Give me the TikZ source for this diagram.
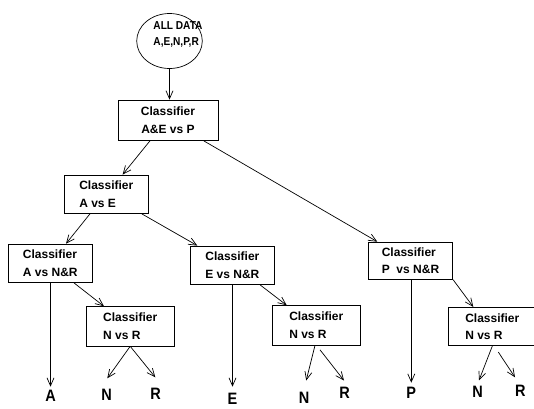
\documentclass[tikz,border=0pt]{standalone}
\usepackage{fontspec}
\usetikzlibrary{arrows.meta,shapes.geometric}
\newfontfamily\boxfont{Liberation Sans}
\newfontfamily\datafont[FakeStretch=0.88]{Liberation Sans}
\newfontfamily\leaffont[FakeStretch=0.88]{Liberation Sans}
\begin{document}
\begin{tikzpicture}[x=1pt,y=-1pt,
    box/.style={draw,rectangle,line width=0.7pt,minimum width=84.5pt,minimum height=38.5pt,inner sep=0pt,align=left,font=\boxfont\bfseries\fontsize{12}{17.5}\selectfont},
    nrbox/.style={box,minimum width=87.5pt,minimum height=39.3pt},
    leaf/.style={inner sep=0pt,font=\leaffont\bfseries\fontsize{16.5}{16.5}\selectfont},
    arr/.style={line width=0.7pt,-{Straight Barb[length=8pt,width=7pt]}}]
        \useasboundingbox (0,0) rectangle (534,408);
        \node[draw,ellipse,line width=0.7pt,minimum width=65.6pt,minimum height=55pt,inner sep=0pt] (all) at (169.5,41) {};
        \node[align=left,inner sep=0pt,font=\datafont\bfseries\fontsize{11.5}{15.5}\selectfont] (alltxt) at (178,34.5) {ALL DATA\\A,E,N,P,R};
        \node[box,minimum width=100pt,minimum height=40.5pt,align=center] (aep) at (168,120.2) {Classifier\\A\&E vs P};
        \node[box] (ave) at (106.3,194.2) {Classifier\\A vs E};
        \node[box] (anr) at (50.3,263.3) {Classifier\\A vs N\&R};
        \node[box] (enr) at (232.4,265.2) {Classifier\\E vs N\&R};
        \node[box,minimum height=37.3pt] (pnr) at (410.5,260.7) {Classifier\\P\ \ vs N\&R};
        \node[nrbox] (nra) at (130.2,326.3) {Classifier\\N vs R};
        \node[nrbox] (nre) at (316.3,325.3) {Classifier\\N vs R};
        \node[nrbox,minimum height=38.4pt] (nrp) at (492.3,326.5) {Classifier\\N vs R};
        \node[leaf] (la) at (50.5,396) {A};
        \node[leaf] (ln1) at (106.6,394.7) {N};
        \node[leaf] (lr1) at (155.7,394) {R};
        \node[leaf] (le) at (232.5,398.5) {E};
        \node[leaf] (ln2) at (304.2,397.5) {N};
        \node[leaf] (lr2) at (344.5,393) {R};
        \node[leaf] (lp) at (411.3,392.5) {P};
        \node[leaf] (ln3) at (477.7,392) {N};
        \node[leaf] (lr3) at (520.4,391) {R};
        \draw[arr] (all.south) -- (all.south |- aep.north);
        \draw[arr] ([xshift=-18pt]aep.south) -- ([xshift=16.3pt]ave.north);
        \draw[arr] ([xshift=35.7pt]aep.south) -- ([xshift=-33.2pt]pnr.north);
        \draw[arr] ([xshift=-16.3pt]ave.south) -- ([xshift=15.7pt]anr.north);
        \draw[arr] ([xshift=35.4pt]ave.south) -- ([xshift=-35.1pt]enr.north);
        \draw[arr] (anr.south -| la) -- ([yshift=9.3pt]la.center);
        \draw[arr] ([xshift=23.7pt]anr.south) -- ([xshift=-26.2pt]nra.north);
        \draw[arr] (nra.south) -- ([xshift=0.7pt,yshift=16.4pt]ln1.center);
        \draw[arr] (nra.south) -- ([xshift=-0.4pt,yshift=16.7pt]lr1.center);
        \draw[arr] (enr.south -| le) -- ([yshift=11.8pt]le.center);
        \draw[arr] ([xshift=27.6pt]enr.south) -- ([xshift=-29.6pt]nre.north);
        \draw[arr] ([xshift=-1.3pt]nre.south) -- ([xshift=2pt,yshift=17pt]ln2.center);
        \draw[arr] ([xshift=3.7pt,yshift=-4.5pt]nre.south) -- ([xshift=-0.5pt,yshift=12.5pt]lr2.center);
        \draw[arr] (pnr.south -| lp) -- ([yshift=9.8pt]lp.center);
        \draw[arr] (pnr.south east) -- ([xshift=-19pt]nrp.north);
        \draw[arr] (nrp.south) -- ([xshift=1.3pt,yshift=11.7pt]ln3.center);
        \draw[arr] ([xshift=6pt,yshift=-6pt]nrp.south) -- ([xshift=-5.4pt,yshift=13.7pt]lr3.center);
      \end{tikzpicture}
\end{document}
